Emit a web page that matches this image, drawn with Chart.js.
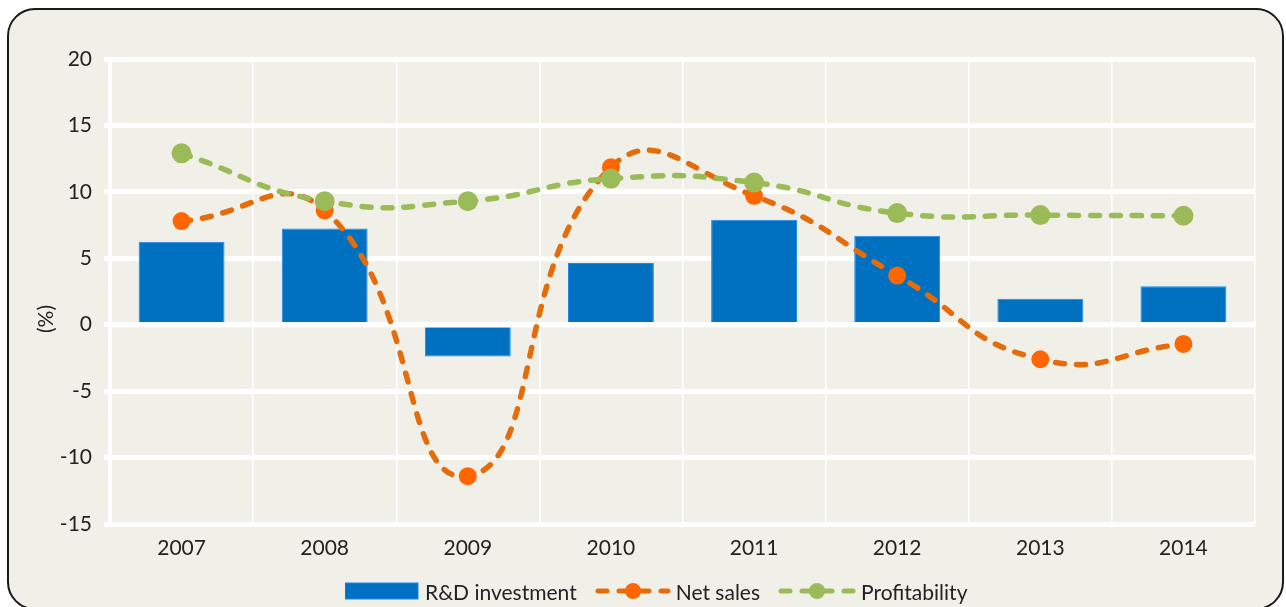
<!DOCTYPE html>
<html>
<head>
<meta charset="utf-8">
<script src="https://cdn.jsdelivr.net/npm/chart.js@4.4.1/dist/chart.umd.min.js"></script>
<style>
    body { margin: 0; background: #ffffff; font-family: Lato, sans-serif; }
    #wrap { position: relative; width: 1286px; height: 607px; overflow: hidden; }
    #frame {
        position: absolute; left: 7px; top: 8px; width: 1273px; height: 598px;
        border: 2px solid #1a1a1a; border-radius: 28px; background: #f1f0e8;
    }
    #chart { position: absolute; left: 0; top: 0; }
    #legend {
        position: absolute; left: 345px; top: 578px; height: 26px;
        display: flex; align-items: center; font-size: 21px; color: #222;
    }
    #legend svg { display: block; }
    .item { display: flex; align-items: center; }
</style>
</head>
<body>
<div id="wrap">
    <div id="frame"></div>
    <canvas id="chart" width="1286" height="607"></canvas>
    <div id="legend">
        <div class="item">
            <svg width="74" height="18"><rect x="0" y="1" width="73" height="16" fill="#0070c0" stroke="#1b85f0" stroke-width="1"/></svg>
            <span style="margin-left:6px">R&amp;D investment</span>
        </div>
        <div class="item" style="margin-left:18px">
            <svg width="76" height="22"><line x1="3" y1="11" x2="73" y2="11" stroke="#e46c0a" stroke-width="5" stroke-linecap="round" stroke-dasharray="9 12"/><circle cx="38" cy="11" r="8" fill="#ff6600"/></svg>
            <span style="margin-left:5px">Net sales</span>
        </div>
        <div class="item" style="margin-left:18px">
            <svg width="78" height="22"><line x1="3" y1="11" x2="75" y2="11" stroke="#9bbb59" stroke-width="5" stroke-linecap="round" stroke-dasharray="9 12"/><circle cx="39" cy="11" r="8" fill="#9bbb59"/></svg>
            <span style="margin-left:5px">Profitability</span>
        </div>
    </div>
</div>
<script>
const years = ["2007", "2008", "2009", "2010", "2011", "2012", "2013", "2014"];
const rdInvestment = [6.25, 7.25, -2.4, 4.65, 7.9, 6.7, 1.95, 2.9];
const netSales = [7.8, 8.6, -11.4, 11.85, 9.7, 3.7, -2.6, -1.45];
const profitability = [12.9, 9.3, 9.3, 11.0, 10.7, 8.4, 8.25, 8.2];
const yMin = -15;
const yMax = 20;
const yStep = 5;

// white line at zero sits on top of the bars, under the lines
const zeroLine = {
    id: 'zeroLine',
    afterDatasetDraw(chart, args) {
        if (args.index !== 0) return;
        const ctx = chart.ctx;
        const y = chart.scales.y.getPixelForValue(0);
        ctx.save();
        ctx.strokeStyle = '#ffffff';
        ctx.lineWidth = 5;
        ctx.beginPath();
        ctx.moveTo(chart.chartArea.left, y);
        ctx.lineTo(chart.chartArea.right, y);
        ctx.stroke();
        ctx.restore();
    }
};

const axisTitle = {
    id: 'axisTitle',
    afterDraw(chart) {
        const ctx = chart.ctx;
        ctx.save();
        ctx.translate(46, 319);
        ctx.rotate(-Math.PI / 2);
        ctx.font = '21px Lato';
        ctx.fillStyle = '#222';
        ctx.textAlign = 'center';
        ctx.textBaseline = 'middle';
        ctx.fillText('(%)', 0, 0);
        ctx.restore();
    }
};

const ctx = document.getElementById('chart').getContext('2d');
new Chart(ctx, {
    type: 'bar',
    data: {
        labels: years,
        datasets: [{
            type: 'bar',
            label: 'R&D investment',
            data: rdInvestment,
            backgroundColor: '#0070c0',
            borderColor: '#1b85f0',
            borderWidth: 1,
            barPercentage: 0.6,
            categoryPercentage: 1,
            order: 3
        }, {
            type: 'line',
            label: 'Net sales',
            data: netSales,
            borderColor: '#e46c0a',
            borderWidth: 5.5,
            borderDash: [9, 12],
            borderCapStyle: 'round',
            tension: 0.5,
            pointRadius: 9,
            pointBorderWidth: 0,
            pointBackgroundColor: '#ff6600',
            order: 2
        }, {
            type: 'line',
            label: 'Profitability',
            data: profitability,
            borderColor: '#9bbb59',
            borderWidth: 5.5,
            borderDash: [9, 12],
            borderCapStyle: 'round',
            tension: 0.5,
            pointRadius: 10,
            pointBorderWidth: 0,
            pointBackgroundColor: '#9bbb59',
            order: 1
        }]
    },
    options: {
        responsive: false,
        animation: false,
        layout: { padding: { top: 59, right: 31, bottom: 0, left: 0 } },
        plugins: {
            legend: { display: false },
            tooltip: { enabled: false }
        },
        scales: {
            x: {
                offset: true,
                grid: {
                    offset: true,
                    drawTicks: false,
                    color: '#ffffff',
                    lineWidth: (c) => c.index === 0 ? 4 : (c.index === years.length ? 5 : 1.5)
                },
                border: { display: false },
                ticks: {
                    padding: 12,
                    color: '#222',
                    font: { family: 'Lato', size: 21 }
                },
                afterFit: (scale) => { scale.height = 83; }
            },
            y: {
                min: yMin,
                max: yMax,
                ticks: {
                    stepSize: yStep,
                    padding: 12,
                    color: '#222',
                    font: { family: 'Lato', size: 21 }
                },
                grid: {
                    color: '#ffffff',
                    lineWidth: 5,
                    tickLength: 6
                },
                border: { display: false },
                afterFit: (scale) => { scale.width = 110; }
            }
        }
    },
    plugins: [zeroLine, axisTitle]
});
</script>
</body>
</html>
